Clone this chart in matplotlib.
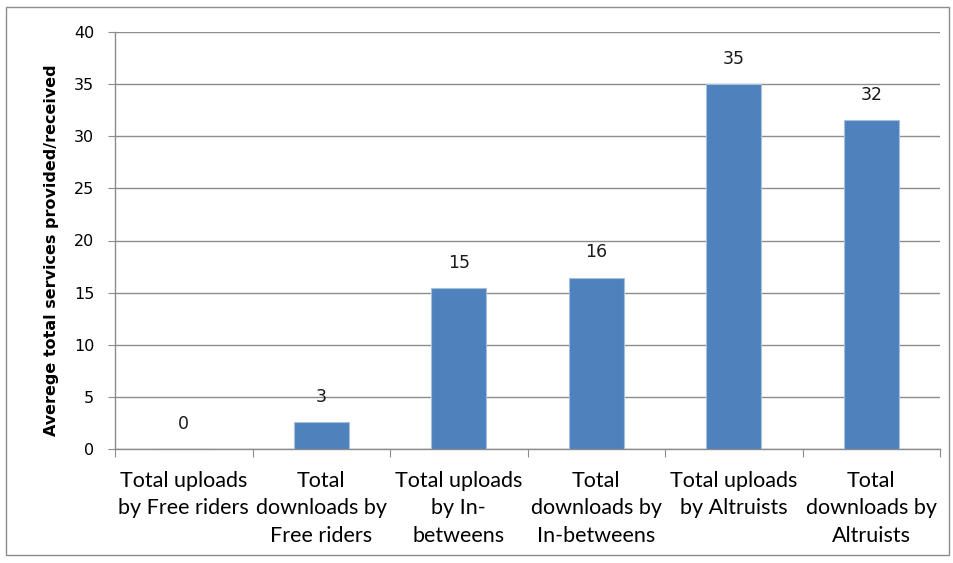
import matplotlib
matplotlib.use("Agg")
import matplotlib.pyplot as plt
from matplotlib.patches import Rectangle

categories = [
    "Total uploads\nby Free riders",
    "Total\ndownloads by\nFree riders",
    "Total uploads\nby In-\nbetweens",
    "Total\ndownloads by\nIn-betweens",
    "Total uploads\nby Altruists",
    "Total\ndownloads by\nAltruists",
]
values = [0, 2.55, 15.45, 16.45, 35.0, 31.55]
yticks = [0, 5, 10, 15, 20, 25, 30, 35, 40]

BAR = "#4f81bd"
GRID = "#8c8c8c"

fig = plt.figure(figsize=(9.54, 5.63), dpi=100)
ax = fig.add_axes([115 / 954, 1 - 449 / 563, 825 / 954, 417 / 563])

x = range(len(categories))
ax.bar(x, values, width=0.4, color=BAR, edgecolor="#a7bfde", linewidth=0.8, zorder=3)
for i, v in enumerate(values):
    ax.text(i, v + 1.55, f"{v:.0f}", ha="center", va="bottom", fontsize=12.5,
            family="DejaVu Sans", color="#1a1a1a")

ax.set_xlim(-0.5, len(categories) - 0.5)
ax.set_ylim(0, 40)
ax.set_yticks(yticks)
ax.set_yticklabels([str(t) for t in yticks], fontsize=11.5, family="DejaVu Sans")
ax.yaxis.grid(True, color=GRID, linewidth=1.0, zorder=0)
ax.set_axisbelow(True)

ax.set_xticks([i - 0.5 for i in range(len(categories) + 1)])
ax.set_xticklabels([])
ax.set_xticks(list(x), minor=True)
ax.set_xticklabels(categories, minor=True, fontsize=15.5,
                   family=["Lato", "DejaVu Sans"], linespacing=1.45)
ax.tick_params(axis="x", which="major", direction="out", length=6, color=GRID)
ax.tick_params(axis="x", which="minor", length=0, pad=16)
ax.tick_params(axis="y", direction="out", length=5, color=GRID, pad=10)

for s in ("top", "right"):
    ax.spines[s].set_visible(False)
for s in ("left", "bottom"):
    ax.spines[s].set_color(GRID)
    ax.spines[s].set_linewidth(1.0)

fig.text(51.5 / 954, 1 - 250 / 563, "Averege total services provided/received",
         rotation=90, ha="center", va="center", fontsize=11.5,
         fontweight="bold", family="DejaVu Sans")

fig.patches.append(Rectangle((6 / 954, 8 / 563), 943 / 954, 548 / 563,
                             transform=fig.transFigure, fill=False,
                             edgecolor="#8c8c8c", linewidth=1.0))

fig.savefig("out.png", dpi=100)
